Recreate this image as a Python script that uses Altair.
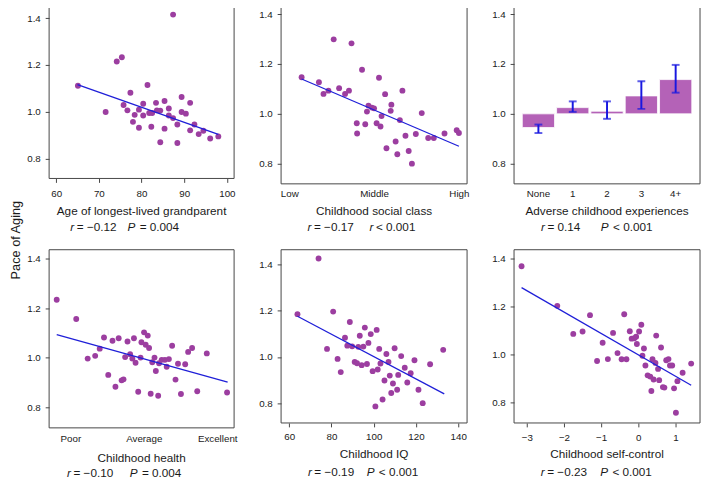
import altair as alt
import pandas as pd

FONT = "Liberation Sans"
DOT = "#9c3ea0"
FIT = "#1f1fd8"
BAR = "#b462b7"
ERR = "#1818e0"
TXT = "#1a1a1a"
FRAME = "#444444"

# ---------------- data ----------------
gp_age = [65.1, 71.6, 74.2, 75.4, 75.8, 76.7, 77.4, 78.4, 78.0, 79.4,
          79.4, 80.4, 80.4, 81.4, 81.8, 82.3, 82.5, 83.4, 83.6, 84.4,
          84.4, 85.4, 85.4, 86.4, 86.4, 87.4, 87.4, 88.4, 88.4, 89.4,
          89.4, 90.4, 91.4, 91.4, 92.4, 93.4, 94.5, 96.1, 98.0]
gp_pace = [1.112, 1.000, 1.215, 1.233, 1.030, 1.007, 1.082, 0.988, 0.958, 1.010,
           0.933, 1.035, 0.985, 1.115, 0.996, 0.937, 0.996, 1.039, 1.007, 0.871,
           1.006, 1.047, 0.929, 1.015, 0.985, 1.415, 0.974, 0.947, 0.868, 1.064,
           1.000, 0.993, 1.039, 0.922, 0.947, 0.906, 0.920, 0.887, 0.896]
gp_fit_x = [65.0, 98.0]
gp_fit_y = [1.117, 0.905]
gp_ticks = [60, 70, 80, 90, 100]

sc_class = [0.073, 0.175, 0.202, 0.231, 0.262, 0.294, 0.329, 0.352, 0.367, 0.398,
            0.400, 0.429, 0.448, 0.458, 0.467, 0.487, 0.500, 0.515, 0.529, 0.538,
            0.544, 0.565, 0.573, 0.598, 0.602, 0.627, 0.637, 0.652, 0.667, 0.685,
            0.704, 0.723, 0.746, 0.781, 0.819, 0.852, 0.915, 0.987, 1.000]
sc_pace = [1.147, 1.127, 1.080, 1.093, 1.299, 1.103, 1.080, 1.093, 1.283, 0.962,
           0.921, 1.177, 0.958, 1.009, 1.033, 1.025, 1.022, 0.962, 1.145, 0.949,
           0.991, 1.079, 0.862, 1.012, 1.037, 0.889, 0.838, 0.975, 1.093, 0.912,
           0.851, 0.800, 0.919, 1.003, 0.903, 0.903, 0.921, 0.934, 0.923]
sc_fit_x = [0.073, 1.0]
sc_fit_y = [1.140, 0.870]
sc_ticks = [0, 0.5, 1]
sc_labels = ["Low", "Middle", "High"]

ace_cats = ["None", "1", "2", "3", "4+"]
ace_mean = [0.945, 1.025, 1.0105, 1.072, 1.1375]
ace_lo = [0.923, 1.008, 0.980, 1.020, 1.085]
ace_hi = [0.957, 1.050, 1.050, 1.131, 1.1965]
ace_base = [1.0, 1.0, 1.0, 1.0, 1.0]

hl_health = [-0.093, 0.040, 0.118, 0.169, 0.200, 0.229, 0.258, 0.287, 0.307, 0.329,
             0.349, 0.362, 0.373, 0.389, 0.407, 0.422, 0.433, 0.444, 0.462, 0.478,
             0.484, 0.502, 0.513, 0.527, 0.536, 0.547, 0.558, 0.573, 0.582, 0.598,
             0.604, 0.622, 0.644, 0.656, 0.671, 0.693, 0.716, 0.733, 0.753, 0.782,
             0.802, 0.829, 0.864, 0.929, 1.067]
hl_pace = [1.235, 1.157, 0.997, 1.008, 1.037, 1.082, 0.931, 1.069, 0.883, 1.079,
           0.909, 0.913, 1.003, 1.066, 1.015, 0.997, 1.079, 0.980, 0.863, 1.001,
           1.063, 1.103, 1.053, 1.090, 1.040, 0.855, 0.982, 1.001, 0.947, 0.847,
           0.978, 0.992, 0.992, 0.964, 0.995, 1.049, 0.912, 0.976, 0.854, 0.974,
           1.024, 1.040, 0.865, 1.018, 0.860]
hl_fit_x = [-0.093, 1.071]
hl_fit_y = [1.094, 0.902]
hl_ticks = [0, 0.5, 1]
hl_labels = ["Poor", "Average", "Excellent"]

iq_iq = [63.9, 73.9, 77.9, 80.8, 82.9, 84.4, 86.4, 87.5, 88.7, 89.8,
         91.0, 92.1, 92.7, 93.4, 94.3, 95.1, 95.8, 96.8, 97.5, 98.6,
         99.5, 100.8, 101.4, 101.9, 102.6, 103.2, 104.2, 105.1, 106.0, 107.0,
         107.6, 108.3, 109.1, 109.9, 111.1, 111.6, 113.0, 114.7, 115.9, 117.5,
         119.3, 121.2, 123.2, 126.7, 132.9]
iq_pace = [1.185, 1.425, 1.035, 1.196, 0.992, 0.935, 1.083, 1.049, 1.151, 1.046,
           0.979, 0.973, 1.044, 1.092, 0.965, 1.045, 1.127, 0.970, 1.061, 1.099,
           0.939, 0.787, 1.117, 0.946, 1.035, 0.972, 0.817, 0.899, 1.013, 0.979,
           0.920, 0.845, 0.886, 1.038, 0.859, 0.923, 1.004, 0.954, 0.890, 0.930,
           0.986, 0.859, 0.801, 0.969, 1.031]
iq_fit_x = [63.9, 133.4]
iq_fit_y = [1.176, 0.841]
iq_ticks = [60, 80, 100, 120, 140]

sf_ctrl = [-3.14, -2.18, -1.75, -1.50, -1.30, -1.11, -0.96, -0.82, -0.68, -0.56,
           -0.45, -0.38, -0.32, -0.23, -0.18, -0.11, -0.06, -0.04, 0.02, 0.08,
           0.11, 0.15, 0.19, 0.25, 0.32, 0.35, 0.38, 0.41, 0.46, 0.48,
           0.53, 0.56, 0.61, 0.66, 0.70, 0.75, 0.81, 0.85, 0.91, 0.96,
           1.01, 1.05, 1.19, 1.42]
sf_pace = [1.369, 1.204, 1.087, 1.097, 1.165, 0.974, 1.050, 0.982, 1.091, 1.007,
           0.981, 1.169, 0.981, 1.098, 1.067, 1.069, 1.075, 1.045, 1.097, 1.125,
           0.996, 1.026, 0.955, 0.914, 0.909, 0.849, 0.981, 0.897, 0.966, 1.080,
           0.941, 0.894, 1.030, 0.865, 0.863, 0.977, 0.982, 0.955, 0.955, 0.860,
           0.758, 0.890, 0.925, 0.963]
sf_fit_x = [-3.14, 1.42]
sf_fit_y = [1.280, 0.873]
sf_ticks = [-3, -2, -1, 0, 1]

y_ticks = [0.8, 1.0, 1.2, 1.4]

titles = ["Age of longest-lived grandparent", "Childhood social class",
          "Adverse childhood experiences", "Childhood health",
          "Childhood IQ", "Childhood self-control"]
stat_r = ["= \u22120.12", "= \u22120.17", "= 0.14", "= \u22120.10", "= \u22120.19", "= \u22120.23"]
stat_p_sym = ["P", "r", "P", "P", "P", "P"]
stat_p = ["= 0.004", "< 0.001", "< 0.001", "= 0.004", "< 0.001", "< 0.001"]


# ---------------- helpers ----------------
def text_layer(t, x, y, size=12, italic=False, align="left", angle=None):
    mk = dict(font=FONT, fontSize=size, color=TXT, align=align, baseline="middle")
    if italic:
        mk["fontStyle"] = "italic"
    if angle is not None:
        mk["angle"] = angle
    return alt.Chart(pd.DataFrame({"t": [t]})).mark_text(**mk).encode(
        x=alt.value(x), y=alt.value(y), text="t:N")


def frame(w, h):
    return alt.Chart(pd.DataFrame({"f": [0]})).mark_rect(
        fill=None, stroke=FRAME, strokeWidth=1).encode(
        x=alt.value(0), x2=alt.value(w), y=alt.value(0), y2=alt.value(h))


def annotations(i, w, h, tdy, sdy, rx, px):
    sym_gap = 6.6 if stat_p_sym[i] == "r" else 12.5
    return [
        frame(w, h),
        text_layer(titles[i], w / 2, h + tdy, align="center"),
        text_layer("r", rx, h + sdy, italic=True),
        text_layer(stat_r[i], rx + 6.6, h + sdy),
        text_layer(stat_p_sym[i], px, h + sdy, italic=True),
        text_layer(stat_p[i], px + sym_gap, h + sdy),
    ]


def y_axis():
    return alt.Axis(values=y_ticks, format=".1f", title=None, tickSize=4,
                    labelPadding=5, labelFontSize=10, domain=False, grid=False,
                    labelFont=FONT, labelColor=TXT, tickColor=FRAME)


def x_axis(values, ticks=True, pad=5, expr=None, fmt=None):
    kw = dict(values=values, title=None, tickSize=4 if ticks else 0, ticks=ticks,
              labelPadding=pad, labelFontSize=10, domain=False, grid=False,
              labelFont=FONT, labelColor=TXT, tickColor=FRAME,
              labelFlush=False, labelOverlap=False)
    if expr:
        kw["labelExpr"] = expr
    if fmt:
        kw["format"] = fmt
    return alt.Axis(**kw)


def label_expr(vals, labels):
    parts = " : ".join(f"datum.value == {v} ? '{l}'" for v, l in zip(vals, labels))
    return parts + " : ''"


def scatter(i, xs, ys, fx, fy, xdom, ydom, xaxis, w, h, tdy, sdy, rx, px, extra=()):
    df = pd.DataFrame({"x": xs, "y": ys})
    fit = pd.DataFrame({"x": fx, "y": fy})
    xsc = alt.Scale(domain=xdom, nice=False, zero=False)
    ysc = alt.Scale(domain=ydom, nice=False, zero=False)
    pts = alt.Chart(df).mark_circle(size=36, color=DOT, opacity=1).encode(
        x=alt.X("x:Q", scale=xsc, axis=xaxis),
        y=alt.Y("y:Q", scale=ysc, axis=y_axis()))
    line = alt.Chart(fit).mark_line(color=FIT, strokeWidth=1.3).encode(
        x=alt.X("x:Q", scale=xsc, axis=xaxis),
        y=alt.Y("y:Q", scale=ysc, axis=y_axis()))
    return alt.layer(pts, line, *annotations(i, w, h, tdy, sdy, rx, px), *extra
                     ).properties(width=w, height=h)


# ---------------- panels ----------------
p1 = scatter(0, gp_age, gp_pace, gp_fit_x, gp_fit_y, [58.35, 101.7], [0.717, 1.459],
             x_axis(gp_ticks, ticks=True, pad=6.6, fmt="d"), 189, 178, 33.7, 49.7, 21.7, 80,
             extra=[text_layer("Pace of Aging", -34, 241, size=13, align="center", angle=270)])

p2 = scatter(1, sc_class, sc_pace, sc_fit_x, sc_fit_y, [-0.048, 1.048], [0.719, 1.440],
             x_axis(sc_ticks, ticks=False, pad=4.8, expr=label_expr(sc_ticks, sc_labels)),
             190, 183.5, 27.5, 44.2, 27, 90.3)

# panel 3: bars with error bars
ace = pd.DataFrame({"cat": ace_cats, "mean": ace_mean, "lo": ace_lo,
                    "hi": ace_hi, "base": ace_base})
ace_x = alt.Scale(domain=ace_cats, paddingInner=0.06, paddingOuter=0.24)
ace_y = alt.Scale(domain=[0.719, 1.440], nice=False, zero=False)
ace_xaxis = alt.Axis(title=None, ticks=False, labelPadding=4.8, labelAngle=0,
                     labelFontSize=10, domain=False, grid=False, labelFont=FONT,
                     labelColor=TXT)
xenc = alt.X("cat:N", sort=ace_cats, scale=ace_x, axis=ace_xaxis)
bars = alt.Chart(ace).mark_bar(color=BAR, stroke="white", strokeWidth=0.8).encode(
    x=xenc, y=alt.Y("mean:Q", scale=ace_y, axis=y_axis()), y2="base:Q")
err = alt.Chart(ace).mark_rule(color=ERR, strokeWidth=2).encode(
    x=xenc, y=alt.Y("lo:Q", scale=ace_y, axis=y_axis()), y2="hi:Q")
cap_lo = alt.Chart(ace).mark_tick(color=ERR, thickness=2, size=8, orient="horizontal").encode(
    x=xenc, y=alt.Y("lo:Q", scale=ace_y, axis=y_axis()))
cap_hi = alt.Chart(ace).mark_tick(color=ERR, thickness=2, size=8, orient="horizontal").encode(
    x=xenc, y=alt.Y("hi:Q", scale=ace_y, axis=y_axis()))
p3 = alt.layer(bars, err, cap_lo, cap_hi,
               *annotations(2, 190, 183.5, 27.5, 44.2, 27.5, 88.7)
               ).properties(width=190, height=183.5)

p4 = scatter(3, hl_health, hl_pace, hl_fit_x, hl_fit_y, [-0.1447, 1.115], [0.717, 1.437],
             x_axis(hl_ticks, ticks=False, pad=6.3, expr=label_expr(hl_ticks, hl_labels)),
             189, 182, 30.4, 46, 18.3, 82.3)

p5 = scatter(4, iq_iq, iq_pace, iq_fit_x, iq_fit_y, [56.15, 144.2], [0.7155, 1.463],
             x_axis(iq_ticks, ticks=True, pad=4.9, fmt="d"), 190, 177, 32, 49.7, 27.4, 87.4)

p6 = scatter(5, sf_ctrl, sf_pace, sf_fit_x, sf_fit_y, [-3.342, 1.658], [0.7155, 1.438],
             x_axis(sf_ticks, ticks=True, pad=5.6, fmt="d"), 190, 177, 32, 49.7, 27.3, 88)

chart = alt.concat(p1, p2, p3, p4, p5, p6, columns=3,
                   spacing={"row": 66.8, "column": 48}, bounds="flush").properties(
    padding={"left": 2, "top": -10, "right": 0, "bottom": 0}
).configure(background="white").configure_view(stroke=None)

chart.save("out.html", embed_options={"renderer": "svg", "actions": False})
